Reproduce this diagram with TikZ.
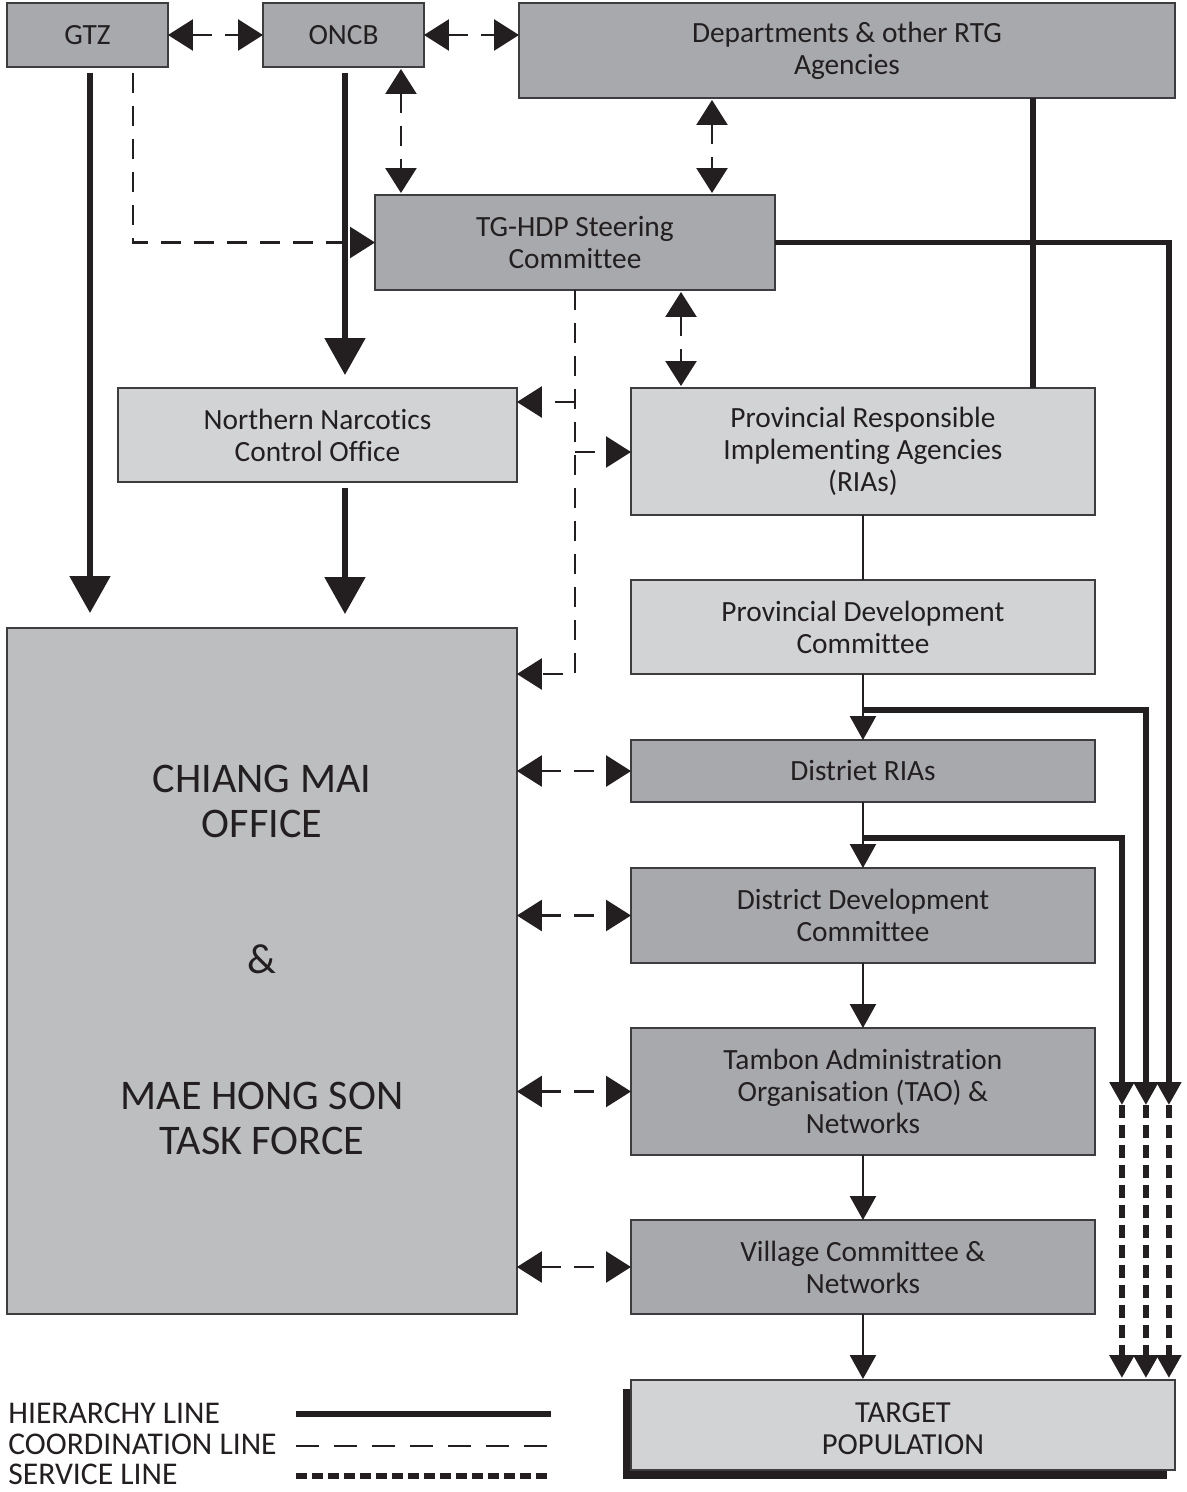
\documentclass[tikz,border=0pt]{standalone}
\usepackage{fontspec}
\setmainfont{Carlito}[Ligatures={NoCommon}]
\usetikzlibrary{arrows.meta,calc}
\definecolor{boxdark}{HTML}{A7A9AC}
\definecolor{boxmid}{HTML}{BCBEC0}
\definecolor{boxlight}{HTML}{D1D3D4}
\definecolor{ink}{HTML}{231F20}
\definecolor{edgec}{HTML}{3D3D3F}
\begin{document}
\begin{tikzpicture}[x=0.02cm,y=-0.02cm,
 box/.style={draw=edgec, line width=0.8pt, anchor=north west, inner sep=0pt, outer sep=0pt, align=center, text=ink, font=\fontsize{16.7}{18.2}\selectfont},
 dk/.style={box, fill=boxdark},
 lt/.style={box, fill=boxlight},
 hier/.style={draw=ink, line width=3pt},
 thinl/.style={draw=ink, line width=1.4pt},
 coord/.style={draw=ink, line width=1.5pt, dash pattern=on 0.4cm off 0.26cm},
 serv/.style={draw=ink, line width=3.1pt, dash pattern=on 0.26cm off 0.14cm},
 bigtip/.style={-{Triangle[length=0.74cm,width=0.8cm]}},
 smalltip/.style={-{Triangle[length=0.46cm,width=0.48cm]}},
 midtip/.style={-{Triangle[length=0.48cm,width=0.52cm]}},
 ctip/.style={-{Triangle[length=0.5cm,width=0.62cm]}},
 cdbl/.style={coord, {Triangle[length=0.5cm,width=0.62cm]}-{Triangle[length=0.5cm,width=0.62cm]}},
 legtext/.style={anchor=base west, inner sep=0pt, text=ink, font=\fontsize{18}{20}\selectfont}
]
\useasboundingbox (0,0) rectangle (1187,1492);

% boxes
\node[dk, minimum width=3.22cm, minimum height=1.28cm] (gtz) at (7,3) {GTZ};
\node[dk, minimum width=3.22cm, minimum height=1.28cm] (oncb) at (263,3) {ONCB};
\node[dk, minimum width=13.12cm, minimum height=1.9cm] (dept) at (519,3) {Departments \& other RTG\\Agencies};
\node[dk, minimum width=8cm, minimum height=1.9cm] (tg) at (375,195) {TG-HDP Steering\\Committee};
\node[lt, minimum width=7.98cm, minimum height=1.88cm] (nnco) at (118,388) {Northern Narcotics\\Control Office};
\node[lt, minimum width=9.28cm, minimum height=2.54cm] (pria) at (631,388) {Provincial Responsible\\Implementing Agencies\\(RIAs)};
\node[lt, minimum width=9.28cm, minimum height=1.88cm] (pdc) at (631,580) {Provincial Development\\Committee};
\node[dk, minimum width=9.28cm, minimum height=1.24cm] (dria) at (631,740) {Distriet RIAs};
\node[dk, minimum width=9.28cm, minimum height=1.9cm] (ddc) at (631,868) {District Development\\Committee};
\node[dk, minimum width=9.28cm, minimum height=2.54cm] (tao) at (631,1028) {Tambon Administration\\Organisation (TAO) \&\\Networks};
\node[dk, minimum width=9.28cm, minimum height=1.88cm] (vc) at (631,1220) {Village Committee \&\\Networks};
\node[box, fill=boxmid, minimum width=10.2cm, minimum height=13.72cm] (cm) at (7,628) {};
\node[align=center, text=ink, font=\fontsize{24}{25.5}\selectfont] (cmtext) at (262,960) {CHIANG MAI\\OFFICE\\[1.82cm]\&\\[1.82cm]MAE HONG SON\\TASK FORCE};
\node[anchor=north west, fill=ink, inner sep=0pt, minimum width=10.88cm, minimum height=1.8cm] (tpshadow) at (623,1389) {};
\node[lt, minimum width=10.88cm, minimum height=1.8cm] (tp) at (631,1380) {};
\node[align=center, text=ink, font=\fontsize{17.4}{18.2}\selectfont] (tptext) at (903,1429) {TARGET\\POPULATION};

% helper coordinates
\coordinate (g1) at ($(gtz.south)+(2.5,6)$);
\coordinate (g2) at ($(gtz.south)+(45.5,6)$);
\coordinate (o1) at ($(oncb.south)+(1.5,6)$);
\coordinate (o2) at ($(oncb.south east)+(-23,2)$);
\coordinate (d1) at ($(dept.south west)+(193,2)$);
\coordinate (d2) at ($(dept.south west)+(514,0)$);
\coordinate (t1) at ($(tg.south west)+(306,2)$);
\coordinate (n1) at ($(nnco.south)+(27.5,6)$);
\coordinate (b1) at ($(nnco.north east)+(0,14)$);
\coordinate (b2) at ($(pria.north west)+(0,64)$);
\coordinate (b3) at ($(cm.north east)+(0,46)$);
\coordinate (s1) at ($(pria.east |- tao.north)+(27,77)$);
\coordinate (s2) at ($(pria.east |- tao.north)+(51,77)$);
\coordinate (s3) at ($(pria.east |- tao.north)+(74,77)$);

% coordination lines
\draw[cdbl] (gtz.east) -- (oncb.west);
\draw[cdbl] (oncb.east) -- (dept.west |- oncb.east);
\draw[coord, ctip] (g2) |- (tg.west);
\draw[cdbl] (o2) -- ($(o2 |- tg.north)+(0,-2)$);
\draw[cdbl] (d1) -- ($(d1 |- tg.north)+(0,-2)$);
\draw[cdbl] (t1) -- ($(t1 |- pria.north)+(0,-2)$);
\draw[coord, ctip] (tg.south) |- (b3);
\draw[coord, ctip] (tg.south |- b1) -- (b1);
\draw[coord, ctip] (tg.south |- b2) -- (b2);
\draw[cdbl] (cm.east |- dria.west) -- (dria.west);
\draw[cdbl] (cm.east |- ddc.west) -- (ddc.west);
\draw[cdbl] (cm.east |- tao.west) -- (tao.west);
\draw[cdbl] (cm.east |- vc.west) -- (vc.west);

% hierarchy lines
\draw[hier, bigtip] (g1) -- ($(g1 |- cm.north)+(0,-15)$);
\draw[hier, bigtip] (o1) -- ($(o1 |- nnco.north)+(0,-13)$);
\draw[hier, bigtip] (n1) -- ($(n1 |- cm.north)+(0,-14)$);
\draw[hier] (d2) -- (d2 |- pria.north);
\draw[hier, smalltip] (tg.east) -| (s3);
\draw[hier, smalltip] ($(pdc.south)+(0,36)$) -| (s2);
\draw[hier, smalltip] ($(dria.south)+(0,36)$) -| (s1);
\draw[thinl] (pria.south) -- (pdc.north);
\draw[thinl, midtip] (pdc.south) -- (dria.north);
\draw[thinl, midtip] (dria.south) -- (ddc.north);
\draw[thinl, midtip] (ddc.south) -- (tao.north);
\draw[thinl, midtip] (tao.south) -- (vc.north);
\draw[thinl, midtip] (vc.south) -- ($(vc.south |- tp.north)+(0,-1)$);

% service lines
\draw[serv, smalltip] (s1) -- ($(s1 |- tp.north)+(0,-2)$);
\draw[serv, smalltip] (s2) -- ($(s2 |- tp.north)+(0,-2)$);
\draw[serv, smalltip] (s3) -- ($(s3 |- tp.north)+(0,-2)$);

% legend
\node[legtext] (lh) at (8,1423) {HIERARCHY LINE};
\node[legtext] (lc) at (8,1454) {COORDINATION LINE};
\node[legtext] (ls) at (8,1484) {SERVICE LINE};
\coordinate (lh1) at (296,1414);
\coordinate (lh2) at (551,1414);
\coordinate (lc1) at (296,1446);
\coordinate (lc2) at (551,1446);
\coordinate (ls1) at (296,1476);
\coordinate (ls2) at (551,1476);
\draw[hier] (lh1) -- (lh2);
\draw[coord, dash pattern=on 0.46cm off 0.3cm] (lc1) -- (lc2);
\draw[serv, dash pattern=on 0.22cm off 0.1cm] (ls1) -- (ls2);
\end{tikzpicture}
\end{document}
